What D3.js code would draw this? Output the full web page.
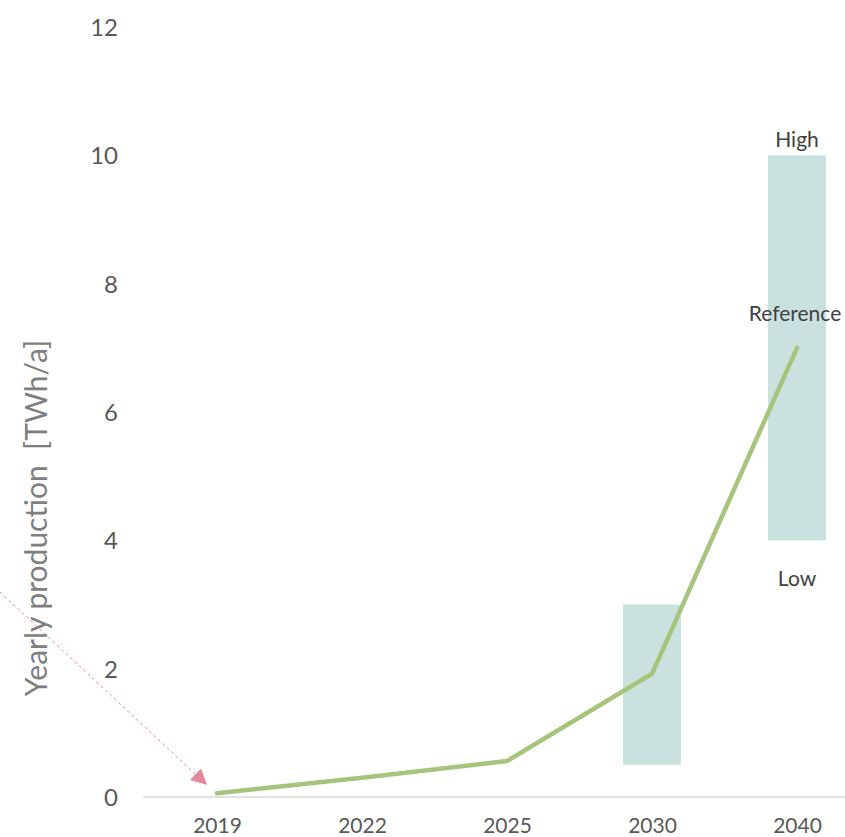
<!DOCTYPE html>
<html><head><meta charset="utf-8">
<script src="https://cdn.jsdelivr.net/npm/d3@7"></script>
<style>body{margin:0;background:#fff}svg{display:block}text{font-family:Lato,"Open Sans",sans-serif}</style>
</head><body><svg id="c" width="845" height="837"></svg>
<script>
const years = ["2019","2022","2025","2030","2040"];
const reference = [0.06, 0.3, 0.56, 1.92, 7.0];
const rangeYears = ["2030","2040"];
const rangeLow = [0.5, 4.0];
const rangeHigh = [3.0, 10.0];
const yTicks = [0,2,4,6,8,10,12];
const scenarioLabels = ["High", "Reference", "Low"];

const svg = d3.select("#c");
const x = d3.scalePoint().domain(years).range([217, 797]);
const y = d3.scaleLinear().domain([0, 12]).range([797, 27]);
const barW = 58;

// baseline
svg.append("line").attr("x1",143).attr("x2",845).attr("y1",y(0)).attr("y2",y(0))
  .attr("stroke","#d9d9d9").attr("stroke-width",1.5);

// range bars
svg.selectAll("rect.rng").data(rangeYears).join("rect").attr("class","rng")
  .attr("x", d=>x(d)-barW/2).attr("width", barW)
  .attr("y", (d,i)=>y(rangeHigh[i])).attr("height",(d,i)=>y(rangeLow[i])-y(rangeHigh[i]))
  .attr("fill","#c9e2df");

// line
svg.append("path").datum(reference)
  .attr("d", d3.line().x((d,i)=>x(years[i])).y(d=>y(d)))
  .attr("fill","none").attr("stroke","#a5c47c").attr("stroke-width",4.5)
  .attr("stroke-linecap","round").attr("stroke-linejoin","round");

// y axis
const ya = svg.append("g").attr("transform","translate(118,0)")
  .call(d3.axisLeft(y).tickValues(yTicks).tickSize(0).tickPadding(0));
ya.select(".domain").remove();
ya.selectAll("text").attr("font-size",24).attr("fill","#595959").attr("text-anchor","end").attr("dy","0.36em");

// x axis
const xa = svg.append("g").attr("transform",`translate(0,${y(0)})`)
  .call(d3.axisBottom(x).tickSize(0).tickPadding(0));
xa.select(".domain").remove();
xa.selectAll("text").attr("font-size",21).attr("fill","#595959").attr("y",36).attr("dy",0);

// scenario labels
const lx = x("2040");
const lab = (t, yy, dx) => svg.append("text").attr("x",lx+dx).attr("y",yy).attr("text-anchor","middle")
  .attr("font-size",21).attr("fill","#404040").text(t);
lab(scenarioLabels[0], y(rangeHigh[1])-8, 0);
lab(scenarioLabels[1], y(reference[4])-27, -2);
lab(scenarioLabels[2], y(rangeLow[1])+46, 0);

// y label
svg.append("text").attr("transform","translate(47,518) rotate(-90)").attr("text-anchor","middle")
  .attr("font-size",30).attr("fill","#7f7f7f").attr("xml:space","preserve").text("Yearly production  [TWh/a]");

// pink dashed arrow
const defs = svg.append("defs");
defs.append("marker").attr("id","ah").attr("viewBox","0 0 10 10").attr("refX",9).attr("refY",5)
  .attr("markerUnits","userSpaceOnUse").attr("markerWidth",16).attr("markerHeight",16).attr("orient","auto")
  .append("path").attr("d","M0,0 L10,5 L0,10 z").attr("fill","#e48a9b");
svg.append("line").attr("x1",0).attr("y1",592).attr("x2",206).attr("y2",784)
  .attr("stroke","#e48a9b").attr("stroke-width",1).attr("stroke-dasharray","3,3")
  .attr("marker-end","url(#ah)");
</script></body></html>
